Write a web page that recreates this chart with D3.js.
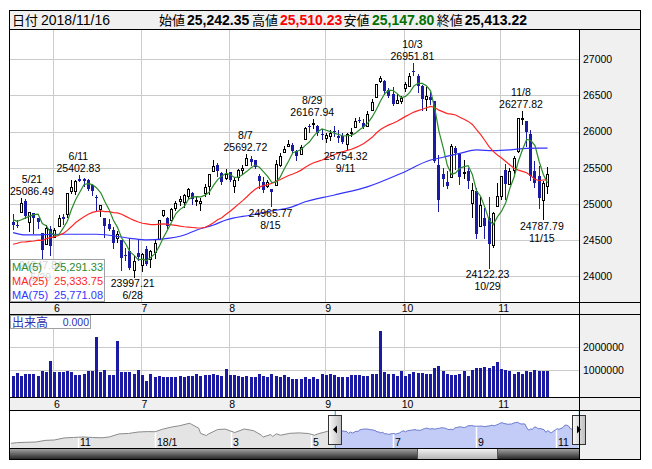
<!DOCTYPE html>
<html lang="ja"><head><meta charset="utf-8">
<script src="https://cdn.jsdelivr.net/npm/d3@7/dist/d3.min.js"></script>
<style>
html,body{margin:0;padding:0;background:#fff;overflow:hidden}
svg{display:block}
text{font-family:"Liberation Sans",Arial,sans-serif;font-size:10.5px;fill:#000}
.jp{font-family:"Noto Sans CJK JP","Noto Sans CJK SC",sans-serif}
</style></head><body>
<svg id="chart" width="652" height="469"></svg>
<script>
// ---------------- DATA ----------------
const holidays = ["2017-11-23","2017-12-25","2018-01-01","2018-01-15","2018-02-19","2018-03-30","2018-05-28","2018-07-04","2018-09-03"];
const calendarStart = "2017-09-12", calendarEnd = "2018-11-16", mainStart = "2018-05-17";

const open = [24746,24716,24883,25047,24756,24877,24801,24604,24445,24651,
 24542,24698,24814,24857,25181,25186,25340,25339,25328,25261,
 25097,24936,24808,24726,24638,24536,24509,24291,24354,24083,
 24320,24161,24381,24235,24342,24522,24848,24808,24783,24941,
 25043,25026,25115,25149,25041,25014,25149,25243,25454,25538,
 25426,25355,25437,25246,25371,25474,25545,25619,25601,25388,
 25302,25248,25213,25261,25536,25723,25804,25808,25737,25687,
 25898,26080,26105,26082,25966,25916,25939,26005,25940,25945,
 25835,25978,26067,26160,26114,26082,26298,26484,26700,26697,
 26578,26522,26400,26425,26598,26627,26833,26771,26627,26447,
 26477,26422,25542,25420,25304,25369,25775,25686,25423,25454,
 25012,25182,24690,24811,24811,24437,24969,25107,25471,25282,
 25464,25737,26186,26144,25961,25462,25388,25060,25242.35];
const high = [24858,24783,25086.49,25064,24891,24877,24812,24604,24704,24701,
 24669,24852,24857,25157,25329,25328,25402.83,25360,25344,25282,
 25120,24991,24808,24797,24680,24622,24509,24393,24534,24283,
 24509,24324,24419,24362,24514,24780,24922,24821,24941,25047,
 25107,25141,25216,25162,25106,25084,25281,25416,25610,25565,
 25445,25479,25443,25359,25478,25536,25692.72,25661,25610,25410,
 25367,25333,25213,25611,25703,25805,25888,25846,25751,25809,
 26066,26100,26167.94,26089,26041,25978,26028,26071,26015,25981,
 25980,26043,26185,26202,26173,26290,26446,26657,26769,26712,
 26596,26611,26524,26487,26679,26806,26951.81,26790,26641,26616,
 26544,26422,25680,25500,25460,25824,25799,25688,25605,25503,
 25284,25221,25103,24950,25091,24884,25283,25388,25553,25498,
 25667,26191,26277.82,26150,26015,25598,25518,25318,25510.23];
const low = [24654,24676,24883,24811,24626,24600,24674,24247.84,24445,24300,
 24542,24698,24720,24823,25153,25140,25315,25254,25191,25124,
 24917,24829,24547,24645,24397,24478,24084,24223,24102,23997.21,
 24232,24076,24159,24135,24257,24522,24827,24664,24773,24917,
 24988,24955,25082,24999,24991,24913,25113,25133,25454,25387,
 25274,25340,25316,25168,25329,25410,25545,25545,25498,25221,
 25166,25233,24965.77,25261,25530,25714,25798,25702,25608,25687,
 25898,25997,26054,25950,25904,25856,25878,25935,25860,25847,
 25754.32,25942,26065,26126,26053,26075,26294,26484,26682,26518,
 26476,26369,26400,26390,26554,26627,26788,26542,26303,26302,
 26380,25580,24900,25250,25222,25369,25478,25279,25358,25227,
 24823,24534,24690,24528,24122.23,24410,24969,25070,25066,25270,
 25422,25713,26101,25796,25327,25238,24946,24787.79,25147.80];
const close = [24713,24715,25013,24834,24886,24811,24753,24361,24667,24416,
 24635,24813,24799,25146,25241,25317,25322,25320,25201,25175,
 25090,24987,24700,24657,24461,24580,24252,24284,24117,24216,
 24271,24307,24175,24357,24456,24776,24920,24700,24924,25019,
 25064,25120,25200,25065,25058,25044,25241,25415,25527,25451,
 25307,25415,25333,25327,25463,25502,25629,25583,25509,25313,
 25187,25299,25162,25558,25669,25758,25822,25733,25656,25790,
 26049,26064,26124,25986,25964,25952,25974,25995,25916,25857,
 25971,25998,26145,26154,26062,26246,26405,26657,26743,26562,
 26492,26385,26440,26458,26651,26774,26828,26627,26447,26487,
 26430,25599,25053,25340,25250,25798,25706,25379,25444,25317,
 25191,24583,24985,24689,24443,24875,25116,25381,25271,25462,
 25636,26181,26191,25989,25387,25287,25081,25290,25413.22];
const volume = [750000,868000,750000,838000,838000,838000,750000,971000,897000,1412000,
 897000,897000,897000,971000,926000,794000,794000,838000,971000,971000,
 2441000,897000,1015000,794000,794000,2294000,926000,897000,926000,838000,
 1015000,794000,500000,838000,676000,750000,706000,706000,706000,676000,
 750000,706000,750000,750000,838000,721000,794000,794000,838000,794000,
 750000,1059000,794000,794000,721000,676000,750000,706000,676000,838000,
 750000,676000,838000,750000,676000,779000,706000,618000,618000,618000,
 706000,618000,676000,618000,838000,794000,838000,794000,706000,706000,
 706000,794000,794000,794000,750000,721000,838000,838000,2735000,897000,
 838000,838000,750000,971000,750000,838000,897000,868000,868000,838000,
 838000,1088000,1191000,971000,838000,794000,794000,838000,971000,750000,
 1015000,1088000,1088000,1132000,1088000,1191000,1338000,1044000,1000000,971000,
 838000,926000,838000,971000,926000,1000000,971000,971000,971000];
// closes of the 24 sessions before the first day (for the moving averages)
const preCloses = [24360,24573,24787,24748,24665,24463,24448,24024,24084,24322,24311,24163,
 24099,23925,23930,24263,24357,24361,24542,24739,24831,24899,24706,24768];
// MA(75)
const ma75Dates = ["2018-05-17","2018-05-22","2018-06-05","2018-06-15","2018-06-27","2018-07-03","2018-07-10","2018-07-17","2018-07-20","2018-07-26","2018-07-31","2018-08-08","2018-08-14","2018-08-22","2018-08-24","2018-09-06","2018-09-18","2018-09-28","2018-10-09","2018-10-12","2018-10-18","2018-10-24","2018-10-30","2018-11-05","2018-11-09","2018-11-16"];
const ma75Values = [24604,24572,24582,24582,24526,24503,24517,24572,24641,24710,24779,24848,24894,24963,25010,25124,25239,25424,25608,25645,25700,25746,25736,25746,25769,25771.08];
const maLegendValues = [25291.33, 25333.75, 25771.08];
// navigator history before the main window
const navHistDates = ["2017-09-12","2017-09-15","2017-09-22","2017-09-29","2017-10-06","2017-10-13","2017-10-20","2017-10-27","2017-11-03","2017-11-10","2017-11-17","2017-11-24","2017-12-01","2017-12-08","2017-12-15","2017-12-22","2017-12-29","2018-01-05","2018-01-12","2018-01-19","2018-01-26","2018-01-29","2018-02-02","2018-02-05","2018-02-08","2018-02-09","2018-02-16","2018-02-23","2018-03-02","2018-03-09","2018-03-16","2018-03-22","2018-03-23","2018-03-29","2018-04-02","2018-04-04","2018-04-06","2018-04-13","2018-04-20","2018-04-27","2018-05-02","2018-05-04","2018-05-11","2018-05-16"];
const navHistCloses = [22118,22268,22350,22405,22774,22871,23329,23434,23539,23422,23358,23558,24232,24329,24652,24754,24719,25296,25803,26072,26617,26439,25521,24346,23860,24191,25219,25310,24538,25336,24947,23957,23533,24103,23644,24264,23933,24360,24463,24311,23925,24263,24831,24768];
const peakDates = ["2018-05-21","2018-06-11","2018-08-07","2018-08-29","2018-10-03","2018-11-08"];
const troughDates = ["2018-05-29","2018-06-28","2018-08-15","2018-09-11","2018-10-29","2018-11-15"];
const priceTicks = [24000,24500,25000,25500,26000,26500,27000];
const volumeTicks = [1000000,2000000];
const maLabels = ["MA(5)","MA(25)","MA(75)"];

// ---------------- CALENDAR ----------------
const fmtISO = d3.utcFormat("%Y-%m-%d"), parseISO = d3.utcParse("%Y-%m-%d");
const holSet = new Set(holidays);
const calDates = d3.utcDay.range(parseISO(calendarStart), d3.utcDay.offset(parseISO(calendarEnd), 1))
  .filter(d => d.getUTCDay() % 6 !== 0 && !holSet.has(fmtISO(d))).map(fmtISO);
const mainOffset = calDates.indexOf(mainStart);
const dates = calDates.slice(mainOffset);
const monthOf = s => +s.slice(5,7);
const mdLabel = s => (+s.slice(5,7)) + "/" + (+s.slice(8,10));

// ---------------- COLORS / LAYOUT ----------------
const C = {panel:"#f0f0f0", grid:"#cbcbcb", blue:"#1a1aa2", ma5:"#2b8a2b", ma25:"#ff2626", ma75:"#3333ff", border:"#000"};
const svg = d3.select("#chart");
const defs = svg.append("defs");

// scales
const xMain = d3.scaleBand().domain(d3.range(dates.length + 8)).range([11, 583]);
const cx = i => xMain(i) + xMain.bandwidth() / 2;
const px = i => Math.floor(cx(i));
const yP = d3.scaleLinear().domain([23646, 27403]).range([302, 30]);
const yV = d3.scaleLinear().domain([-200000, 3420000]).range([397.3, 315]);
const xNav = d3.scaleBand().domain(d3.range(calDates.length)).range([10, 579]);
const nx = i => xNav(i) + xNav.bandwidth() / 2;
const yN = d3.scaleLinear().domain([21000, 29600]).range([448.3, 410]);

// backgrounds
svg.append("rect").attr("width", 652).attr("height", 469).attr("fill", "#fff");
svg.append("rect").attr("x", 10).attr("y", 10).attr("width", 631).attr("height", 20).attr("fill", C.panel);
svg.append("rect").attr("x", 580).attr("y", 30).attr("width", 61).attr("height", 430).attr("fill", C.panel);
svg.append("rect").attr("x", 10).attr("y", 302).attr("width", 631).attr("height", 13).attr("fill", C.panel);
svg.append("rect").attr("x", 10).attr("y", 397).attr("width", 631).attr("height", 13).attr("fill", C.panel);

function clip(id, x, y, w, h) {
  defs.append("clipPath").attr("id", id).append("rect").attr("x", x).attr("y", y).attr("width", w).attr("height", h);
  return "url(#" + id + ")";
}
const mainClip = clip("cmain", 10, 30, 570, 272);
const volClip = clip("cvol", 10, 315, 570, 82);

// month starts
const monthIdx = d3.range(1, dates.length).filter(i => monthOf(dates[i]) !== monthOf(dates[i - 1]));

// gridlines
const grid = svg.append("g").attr("stroke", C.grid).attr("stroke-width", 1).attr("shape-rendering", "crispEdges");
priceTicks.forEach(t => grid.append("line").attr("x1", 10).attr("x2", 580).attr("y1", Math.round(yP(t)) + 0.5).attr("y2", Math.round(yP(t)) + 0.5));
volumeTicks.forEach(t => grid.append("line").attr("x1", 10).attr("x2", 580).attr("y1", Math.round(yV(t)) + 0.5).attr("y2", Math.round(yV(t)) + 0.5));
monthIdx.forEach(i => {
  const x = px(i) - 0.5;
  grid.append("line").attr("x1", x).attr("x2", x).attr("y1", 30).attr("y2", 302);
  grid.append("line").attr("x1", x).attr("x2", x).attr("y1", 315).attr("y2", 397);
});

// candles
const cg = svg.append("g").attr("clip-path", mainClip);
dates.forEach((d, i) => {
  const up = close[i] >= open[i];
  const r = px(i);
  cg.append("line").attr("x1", r + 0.5).attr("x2", r + 0.5)
    .attr("y1", Math.round(yP(high[i]))).attr("y2", Math.round(yP(low[i])) + 1)
    .attr("stroke", up ? "#000" : C.blue).attr("shape-rendering", "crispEdges");
  const yo = Math.round(yP(open[i])), yc = Math.round(yP(close[i]));
  if (up) {
    cg.append("rect").attr("x", r - 0.5).attr("y", yc + 0.5).attr("width", 2).attr("height", Math.max(yo - yc, 1))
      .attr("fill", "#fff").attr("stroke", "#000").attr("shape-rendering", "crispEdges");
  } else {
    cg.append("rect").attr("x", r - 1).attr("y", yo).attr("width", 3).attr("height", Math.max(yc - yo, 1))
      .attr("fill", C.blue).attr("shape-rendering", "crispEdges");
  }
});

// moving averages
const allCloses = preCloses.concat(close);
const rolling = n => close.map((_, i) => d3.mean(allCloses.slice(preCloses.length + i - n + 1, preCloses.length + i + 1)));
const ma5 = rolling(5), ma25 = rolling(25);
const lineGen = d3.line().x(p => cx(p[0])).y(p => yP(p[1]));
const mg = svg.append("g").attr("clip-path", mainClip).attr("fill", "none").attr("stroke-width", 1.2);
mg.append("path").attr("d", lineGen.curve(d3.curveMonotoneX)(ma75Dates.map((d, k) => [dates.indexOf(d), ma75Values[k]]))).attr("stroke", C.ma75);
mg.append("path").attr("d", lineGen.curve(d3.curveLinear)(ma25.map((v, i) => [i, v]))).attr("stroke", C.ma25);
mg.append("path").attr("d", lineGen.curve(d3.curveLinear)(ma5.map((v, i) => [i, v]))).attr("stroke", C.ma5);

// high / low annotations
const ag = svg.append("g");
function annotate(dateStr, kind) {
  const i = dates.indexOf(dateStr);
  const val = kind === "high" ? high[i] : low[i];
  const yv = yP(val);
  const t1 = ag.append("text").attr("text-anchor", "middle").text(d3.format(".2f")(val));
  const t2 = ag.append("text").attr("text-anchor", "middle").text(mdLabel(dateStr));
  const w = Math.max(t1.node().getComputedTextLength(), t2.node().getComputedTextLength());
  const x = Math.max(10 + w / 2, Math.min(579 - w / 2, cx(i) - 1.5));
  t1.attr("x", x); t2.attr("x", x);
  if (kind === "high") { t1.attr("y", yv - 3); t2.attr("y", yv - 15); }
  else { t1.attr("y", yv + 10.5); t2.attr("y", yv + 22.5); }
}
peakDates.forEach(d => annotate(d, "high"));
troughDates.forEach(d => annotate(d, "low"));

// MA legend
const lg = svg.append("g");
lg.append("rect").attr("x", 10.5).attr("y", 259.5).attr("width", 94).attr("height", 42)
  .attr("fill", "#fff").attr("fill-opacity", 0.82).attr("stroke", "#a0a0a0").attr("shape-rendering", "crispEdges");
[C.ma5, C.ma25, C.ma75].forEach((col, k) => {
  lg.append("text").attr("x", 12).attr("y", 270.5 + k * 14).style("font-size", "11px").style("fill", col).text(maLabels[k]);
  lg.append("text").attr("x", 103).attr("y", 270.5 + k * 14).attr("text-anchor", "end").style("font-size", "11px").style("fill", col)
    .text(d3.format(",.2f")(maLegendValues[k]));
});

// volume bars
const vg = svg.append("g").attr("clip-path", volClip).attr("fill", C.blue).attr("shape-rendering", "crispEdges");
volume.forEach((v, i) => {
  const y = Math.round(yV(v));
  vg.append("rect").attr("x", px(i) - 1).attr("y", y).attr("width", 3).attr("height", 397 - y);
});
// volume label box
svg.append("rect").attr("x", 10.5).attr("y", 315.5).attr("width", 80).attr("height", 13).attr("fill", "#fff").attr("stroke", "#a0a0a0").attr("shape-rendering", "crispEdges");
svg.append("text").attr("class", "jp").attr("x", 12).attr("y", 326.5).style("font-size", "12px").style("fill", "#3030b0").text("出来高");
svg.append("text").attr("x", 89).attr("y", 326).attr("text-anchor", "end").style("fill", "#3030b0").text(d3.format(".3f")(0));

// axis labels
priceTicks.forEach(t => svg.append("text").attr("x", 583).attr("y", yP(t) + 3.8).text(t));
volumeTicks.forEach(t => svg.append("text").attr("x", 583).attr("y", yV(t) + 3.8).text(t));
monthIdx.forEach(i => {
  [312, 407.5].forEach(y => svg.append("text").attr("x", cx(i) + 2).attr("y", y).attr("text-anchor", "middle").text(monthOf(dates[i])));
});

// header
const last = dates.length - 1;
const hg = svg.append("g");
const hdr = [
  {x: 12, t: "日付", jp: true},
  {x: 41, t: dates[last].replace(/-/g, "/"), w: "normal"},
  {x: 159, t: "始値", jp: true},
  {x: 187, t: d3.format(",.2f")(open[last]), w: "bold", c: "#000"},
  {x: 252, t: "高値", jp: true},
  {x: 280, t: d3.format(",.2f")(high[last]), w: "bold", c: "#ff0000"},
  {x: 343.5, t: "安値", jp: true},
  {x: 372, t: d3.format(",.2f")(low[last]), w: "bold", c: "#007000"},
  {x: 436.7, t: "終値", jp: true},
  {x: 464.7, t: d3.format(",.2f")(close[last]), w: "bold", c: "#000"}
];
hdr.forEach(h => {
  const t = hg.append("text").attr("x", h.x).attr("y", 25).text(h.t);
  if (h.jp) t.attr("class", "jp").style("font-size", "13px");
  else t.style("font-size", "14px").style("font-weight", h.w).style("fill", h.c || "#000");
});

// ---------------- NAVIGATOR ----------------
const navIndex = new Map(calDates.map((d, i) => [d, i]));
const navPts = navHistDates.map((d, k) => [navIndex.get(d), navHistCloses[k]])
  .concat(dates.map((d, k) => [mainOffset + k, close[k]]));
const selL = nx(mainOffset), selR = 579.3;
const navGrayClip = clip("cnavg", 10, 410, selL - 10, 38.3);
const navBlueClip = clip("cnavb", selL, 410, selR - selL, 38.3);
const area = d3.area().x(p => nx(p[0])).y0(448.3).y1(p => yN(p[1]));
const nline = d3.line().x(p => nx(p[0])).y(p => yN(p[1]));
svg.append("path").attr("d", area(navPts)).attr("fill", "#e4e4e4").attr("clip-path", navGrayClip);
svg.append("path").attr("d", area(navPts)).attr("fill", "#c2ccf6").attr("clip-path", navBlueClip);
// month markers every two months
const navTicks = d3.range(1, calDates.length).filter(i => monthOf(calDates[i]) !== monthOf(calDates[i - 1]) && monthOf(calDates[i]) % 2 === 1);
navTicks.forEach(i => {
  const x = Math.round(nx(i) - 1.5) + 0.5;
  svg.append("line").attr("x1", x).attr("x2", x).attr("y1", 410).attr("y2", 448).attr("stroke", "#fff").attr("stroke-width", 1.5);
  const m = monthOf(calDates[i]);
  svg.append("text").attr("x", x + 1.5).attr("y", 445.5).text(m === 1 ? calDates[i].slice(2, 4) + "/1" : m);
});
svg.append("path").attr("d", nline(navPts)).attr("fill", "none").attr("stroke", "#8a8a8a").attr("clip-path", navGrayClip);
svg.append("path").attr("d", nline(navPts)).attr("fill", "none").attr("stroke", "#6a78cc").attr("clip-path", navBlueClip);
[selL, selR].forEach(x => svg.append("line").attr("x1", x).attr("x2", x).attr("y1", 410).attr("y2", 448.3).attr("stroke", "#18a0c8"));

// scrollbar
const gDark = defs.append("linearGradient").attr("id", "gdark").attr("x1", 0).attr("y1", 0).attr("x2", 0).attr("y2", 1);
gDark.append("stop").attr("offset", 0).attr("stop-color", "#a8a8a8");
gDark.append("stop").attr("offset", 1).attr("stop-color", "#222");
const gLight = defs.append("linearGradient").attr("id", "glight").attr("x1", 0).attr("y1", 0).attr("x2", 0).attr("y2", 1);
gLight.append("stop").attr("offset", 0).attr("stop-color", "#f4f4f4");
gLight.append("stop").attr("offset", 1).attr("stop-color", "#b4b4b4");
const gHandle = defs.append("linearGradient").attr("id", "ghandle").attr("x1", 0).attr("y1", 0).attr("x2", 1).attr("y2", 0);
gHandle.append("stop").attr("offset", 0).attr("stop-color", "#fafafa");
gHandle.append("stop").attr("offset", 1).attr("stop-color", "#bdbdbd");
svg.append("rect").attr("x", 10).attr("y", 448.5).attr("width", 569.5).attr("height", 11).attr("fill", "url(#gdark)");
svg.append("rect").attr("x", 417.5).attr("y", 448.5).attr("width", 80).attr("height", 10.5).attr("fill", "url(#glight)").attr("stroke", "#555").attr("shape-rendering", "crispEdges");

// handles
[[selL, -1], [selR, 1]].forEach(([x, dir]) => {
  const hx = Math.round(x - 7) + 0.5;
  svg.append("rect").attr("x", hx).attr("y", 415.5).attr("width", 13).attr("height", 28.5)
    .attr("fill", "url(#ghandle)").attr("stroke", "#333").attr("shape-rendering", "crispEdges");
  const c = hx + 6.5;
  svg.append("path").attr("d", dir < 0
      ? `M${c - 2},429.5 L${c + 2},425.5 L${c + 2},433.5 Z`
      : `M${c + 2},429.5 L${c - 2},425.5 L${c - 2},433.5 Z`).attr("fill", "#000");
});

// ---------------- BORDERS ----------------
const bg = svg.append("g").attr("stroke", C.border).attr("fill", "none").attr("shape-rendering", "crispEdges");
bg.append("rect").attr("x", 9.5).attr("y", 10.5).attr("width", 631).attr("height", 449);
[29.5, 302.5, 314.5, 397.5, 410.5].forEach(y => bg.append("line").attr("x1", 9.5).attr("x2", 640.5).attr("y1", y).attr("y2", y));
bg.append("line").attr("x1", 579.5).attr("x2", 579.5).attr("y1", 29.5).attr("y2", 459.5);
bg.append("line").attr("x1", 9.5).attr("x2", 579.5).attr("y1", 448.5).attr("y2", 448.5);
</script></body></html>
